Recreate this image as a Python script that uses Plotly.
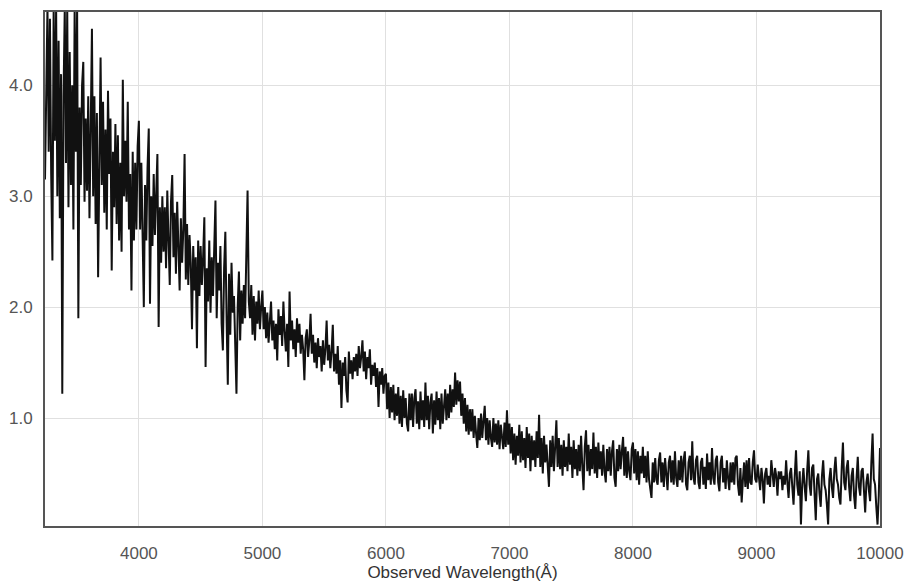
import plotly.graph_objects as go

wl_step = 10

flux_3240 = [3.15, 4.20, 4.70, 3.40, 4.60, 3.20, 2.42, 4.70, 3.50, 4.70,
             3.00, 4.40, 2.80, 4.10, 1.22, 3.90, 4.70, 3.30, 4.70, 2.90,
             4.30, 3.10, 4.00, 2.70, 4.70, 3.40, 4.70, 1.90, 3.80, 3.10,
             4.00, 4.21, 2.95, 3.70, 3.05, 3.90, 2.80, 3.60, 4.51, 3.00,
             3.90, 2.75, 3.75, 2.27, 3.50, 4.25, 3.10, 3.85, 2.85, 3.60,
             2.70, 3.95, 3.20, 3.70, 2.33, 3.40, 2.90, 3.65, 2.75, 3.55,
             2.60, 3.30, 2.50, 4.05, 3.00, 3.50, 2.95, 3.85, 2.70, 3.20,
             2.15, 3.40, 2.60, 3.30, 2.70, 3.45]

flux_4000 = [3.68, 2.70, 3.30, 2.45, 2.00, 3.10, 2.60, 3.25, 3.61, 2.03,
             3.00, 2.55, 3.20, 2.65, 3.05, 3.38, 1.82, 2.90, 2.40, 3.00,
             2.50, 2.90, 2.35, 3.05, 2.60, 2.20, 2.95, 3.19, 2.45, 2.85,
             2.30, 2.95, 2.55, 2.15, 2.80, 2.40, 2.70, 3.38, 2.25, 2.75,
             2.20, 2.65, 2.40, 1.80, 2.55, 2.15, 2.45, 1.63, 2.60, 2.10,
             2.55, 2.20, 2.45, 2.81, 1.46, 2.35, 2.05, 2.60, 1.95, 2.45,
             2.10, 2.50, 2.96, 1.90, 2.40, 2.15, 2.55, 1.85, 1.61, 2.35,
             2.68, 1.90, 1.30, 2.30, 1.75, 2.40, 1.95, 2.10, 1.65, 1.22,
             2.00, 2.32, 1.70, 2.15, 1.85, 2.20, 1.90, 2.45, 3.05, 2.05,
             1.90, 2.20, 1.75, 2.10, 1.70, 2.05, 1.85, 2.15, 1.80, 2.00]

flux_5000 = [2.15, 1.80, 2.00, 1.72, 1.95, 1.68, 1.90, 2.05, 1.70, 1.88,
             1.62, 1.85, 1.52, 1.98, 1.75, 1.92, 1.65, 2.05, 1.78, 1.60,
             1.85, 1.46, 2.14, 1.70, 1.88, 1.62, 1.80, 1.55, 1.90, 1.68,
             1.85, 1.58, 1.75, 1.62, 1.34, 1.72, 1.80, 1.55, 1.70, 1.94,
             1.58, 1.75, 1.50, 1.68, 1.45, 1.72, 1.55, 1.65, 1.42, 1.70,
             1.48, 1.62, 1.88, 1.52, 1.66, 1.45, 1.60, 1.84, 1.42, 1.58,
             1.40, 1.65, 1.30, 1.52, 1.09, 1.50, 1.38, 1.55, 1.25, 1.14,
             1.60, 1.40, 1.52, 1.35, 1.55, 1.42, 1.58, 1.38, 1.65, 1.45,
             1.55, 1.70, 1.42, 1.60, 1.35, 1.55, 1.45, 1.62, 1.30, 1.48,
             1.38, 1.50, 1.28, 1.45, 1.10, 1.42, 1.30, 1.45, 1.22, 1.38]

flux_6000 = [1.40, 1.08, 1.32, 1.00, 1.28, 1.05, 1.30, 0.98, 1.22, 1.02,
             1.28, 0.95, 1.20, 0.92, 1.25, 1.00, 1.18, 0.95, 0.88, 1.22,
             0.98, 1.22, 0.92, 1.18, 1.26, 0.95, 1.15, 0.90, 1.24, 0.98,
             1.16, 0.92, 1.32, 0.98, 1.20, 0.90, 1.14, 1.22, 0.86, 1.16,
             0.94, 1.24, 0.98, 1.18, 0.90, 1.22, 0.95, 1.16, 1.26, 0.98,
             1.22, 1.00, 1.30, 1.05, 1.26, 1.10, 1.41, 1.12, 1.34, 1.15,
             1.33, 1.02, 1.22, 0.95, 1.18, 0.88, 1.12, 0.85, 1.08, 0.88,
             1.08, 0.82, 1.02, 0.86, 0.73, 1.00, 0.80, 1.04, 0.82, 0.98,
             1.11, 0.80, 1.00, 0.76, 0.98, 0.82, 0.74, 1.00, 0.78, 0.95,
             0.76, 0.98, 0.72, 0.94, 0.80, 0.72, 0.96, 0.74, 1.07, 0.76]

flux_7000 = [0.95, 0.68, 0.92, 0.62, 0.86, 0.58, 0.84, 0.66, 0.94, 0.60,
             0.88, 0.62, 0.82, 0.55, 0.92, 0.64, 0.86, 0.52, 0.84, 0.62,
             0.80, 0.56, 0.88, 0.64, 1.03, 0.56, 0.82, 0.50, 0.84, 0.60,
             0.76, 0.50, 0.38, 0.80, 0.56, 0.84, 0.52, 0.74, 0.98, 0.56,
             0.82, 0.54, 0.76, 0.48, 0.80, 0.56, 0.74, 0.52, 0.86, 0.58,
             0.74, 0.46, 0.80, 0.54, 0.72, 0.48, 0.76, 0.52, 0.84, 0.56,
             0.35, 0.74, 0.89, 0.52, 0.76, 0.48, 0.72, 0.54, 0.87, 0.50,
             0.74, 0.46, 0.78, 0.54, 0.70, 0.48, 0.76, 0.52, 0.42, 0.72,
             0.52, 0.74, 0.48, 0.70, 0.80, 0.46, 0.38, 0.72, 0.52, 0.76,
             0.54, 0.70, 0.83, 0.48, 0.74, 0.46, 0.70, 0.52, 0.44, 0.72]

flux_8000 = [0.78, 0.50, 0.72, 0.44, 0.70, 0.40, 0.66, 0.50, 0.74, 0.46,
             0.66, 0.42, 0.70, 0.45, 0.36, 0.28, 0.60, 0.42, 0.64, 0.44,
             0.40, 0.62, 0.69, 0.42, 0.60, 0.38, 0.64, 0.44, 0.35, 0.60,
             0.66, 0.42, 0.62, 0.40, 0.70, 0.46, 0.38, 0.62, 0.44, 0.66,
             0.42, 0.62, 0.70, 0.40, 0.35, 0.60, 0.66, 0.44, 0.79, 0.46,
             0.40, 0.62, 0.66, 0.42, 0.36, 0.60, 0.64, 0.40, 0.56, 0.36,
             0.68, 0.44, 0.60, 0.40, 0.73, 0.46, 0.40, 0.62, 0.66, 0.42,
             0.34, 0.60, 0.66, 0.42, 0.55, 0.36, 0.62, 0.46, 0.35, 0.60,
             0.42, 0.60, 0.40, 0.64, 0.66, 0.40, 0.30, 0.55, 0.24, 0.44,
             0.60, 0.38, 0.62, 0.36, 0.64, 0.42, 0.40, 0.60, 0.71, 0.45]

flux_9000 = [0.42, 0.58, 0.48, 0.35, 0.55, 0.45, 0.23, 0.50, 0.55, 0.40,
             0.48, 0.38, 0.62, 0.45, 0.38, 0.55, 0.48, 0.30, 0.52, 0.45,
             0.52, 0.35, 0.48, 0.40, 0.62, 0.42, 0.28, 0.50, 0.55, 0.38,
             0.22, 0.48, 0.71, 0.40, 0.30, 0.52, 0.04, 0.40, 0.55, 0.38,
             0.25, 0.52, 0.71, 0.40, 0.30, 0.55, 0.58, 0.32, 0.08, 0.45,
             0.50, 0.32, 0.20, 0.48, 0.62, 0.40, 0.35, 0.22, 0.04, 0.45,
             0.55, 0.38, 0.28, 0.52, 0.65, 0.45, 0.40, 0.28, 0.22, 0.55,
             0.78, 0.42, 0.35, 0.55, 0.62, 0.38, 0.25, 0.48, 0.55, 0.30,
             0.18, 0.45, 0.65, 0.38, 0.30, 0.52, 0.55, 0.35, 0.15, 0.42,
             0.50, 0.35, 0.25, 0.60, 0.86, 0.45, 0.40, 0.20, 0.04, 0.30,
             0.73]

segments = [(3240, flux_3240), (4000, flux_4000), (5000, flux_5000),
            (6000, flux_6000), (7000, flux_7000), (8000, flux_8000),
            (9000, flux_9000)]

x_ticks = [4000, 5000, 6000, 7000, 8000, 9000, 10000]
x_tick_labels = ["4000", "5000", "6000", "7000", "8000", "9000", "10000"]
y_ticks = [1.0, 2.0, 3.0, 4.0]
y_tick_labels = ["1.0", "2.0", "3.0", "4.0"]

wavelength = []
flux = []
for start, vals in segments:
    for i, v in enumerate(vals):
        wavelength.append(start + i * wl_step)
        flux.append(v)

fig = go.Figure()
fig.add_trace(go.Scatter(
    x=wavelength, y=flux, mode="lines",
    line=dict(color="#111111", width=2),
    hoverinfo="skip", showlegend=False,
))

fnt = "Liberation Sans, Arial, sans-serif"
fig.update_layout(
    width=907, height=583,
    margin=dict(l=45, r=27, t=12, b=57),
    paper_bgcolor="white", plot_bgcolor="white",
    font=dict(family=fnt, size=17, color="#555555"),
    xaxis=dict(
        range=[3240, 10000], tickvals=x_ticks, ticktext=x_tick_labels,
        showgrid=True, gridcolor="#e0e0e0", gridwidth=1,
        showline=True, linecolor="#555555", linewidth=2, mirror=True,
        zeroline=False, ticks="", automargin=False,
        ticklabelstandoff=11,
        tickfont=dict(size=17, color="#555555"),
        title=dict(text="Observed Wavelength(Å)", standoff=4,
                   font=dict(size=17, color="#333333")),
    ),
    yaxis=dict(
        range=[0.027, 4.66], tickvals=y_ticks, ticktext=y_tick_labels,
        showgrid=True, gridcolor="#e0e0e0", gridwidth=1,
        showline=True, linecolor="#555555", linewidth=2, mirror=True,
        zeroline=False, ticks="", automargin=False,
        ticklabelstandoff=7,
        tickfont=dict(size=17, color="#555555"),
    ),
)

fig.write_html("out.html", config={"displayModeBar": False},
               post_script="document.body.style.margin='0';document.body.style.overflow='hidden';")
